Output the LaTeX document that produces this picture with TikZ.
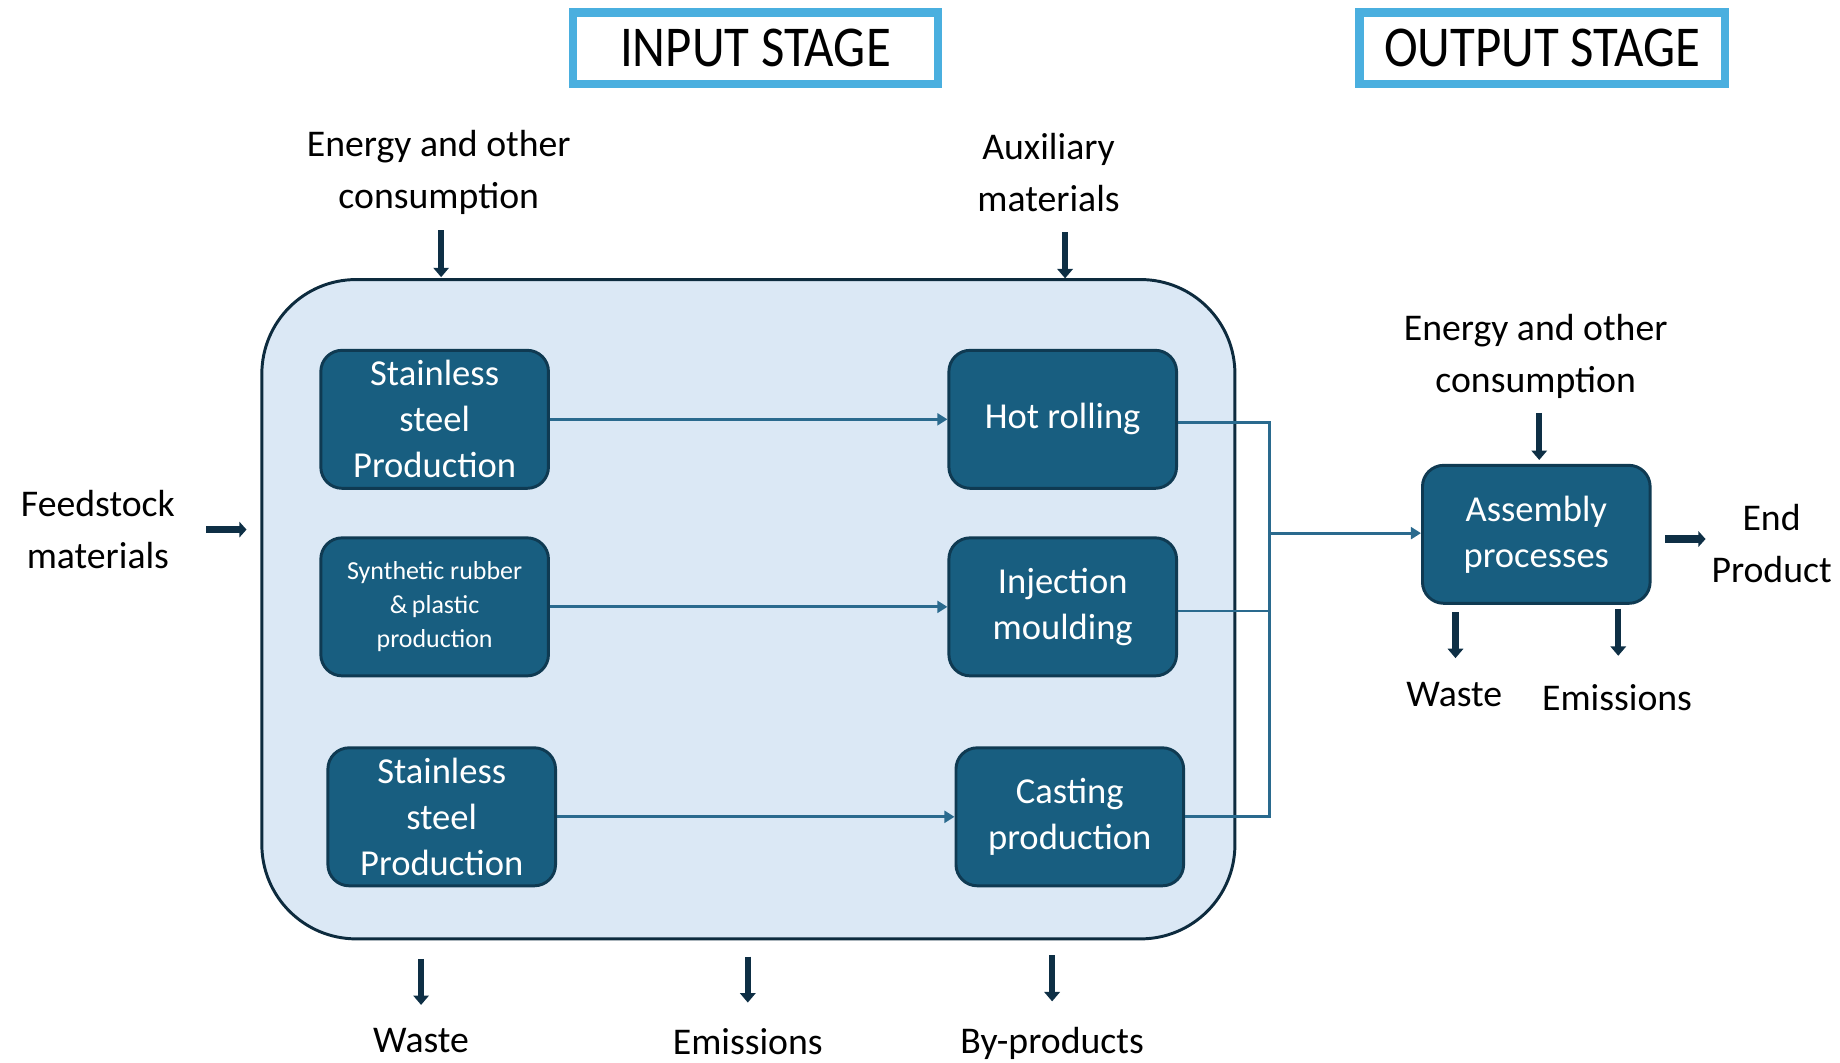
\documentclass[tikz,border=0pt]{standalone}
\usepackage{fontspec}
\setmainfont{Carlito}
\newfontfamily\titlefont[FakeStretch=0.88]{Carlito}
\usetikzlibrary{arrows.meta}
\definecolor{boxfill}{HTML}{185E80}
\definecolor{boxline}{HTML}{0F3A52}
\definecolor{bigfill}{HTML}{DBE8F5}
\definecolor{bigline}{HTML}{0D2B3E}
\definecolor{stageline}{HTML}{4AAFDF}
\definecolor{navy}{HTML}{0E2F45}
\definecolor{conn}{HTML}{2A6A8E}
\tikzset{
  procbox/.style={draw=boxline, fill=boxfill, line width=2.5pt, rounded corners=18pt,
    minimum width=193pt, minimum height=117pt, text=white, align=center,
    font=\fontsize{31}{39}\selectfont},
  smallproc/.style={procbox, font=\fontsize{22}{29}\selectfont},
  stagebox/.style={draw=stageline, line width=7pt, fill=white, minimum width=310pt,
    minimum height=61pt, font=\titlefont\fontsize{49}{52}\selectfont},
  lbl/.style={align=center, text=black, font=\fontsize{32}{44}\selectfont, inner sep=0pt},
  thk/.style={draw=navy, line width=5.2pt, -{Triangle[length=8pt,width=13pt]}},
  thkr/.style={draw=navy, line width=6.5pt, -{Triangle[length=6pt,width=13pt]}},
  cn/.style={draw=conn, line width=2.4pt},
  cna/.style={cn, -{Triangle[length=8.5pt,width=10pt]}},
}
\begin{document}
\begin{tikzpicture}[x=1pt,y=-1pt]
\useasboundingbox (0,0) rectangle (1560,900.4);
% stage titles
\node[stagebox] (instage) at (640.5,41) {INPUT STAGE};
\node[stagebox] (outstage) at (1307.5,41) {OUTPUT STAGE};
% big container
\draw[fill=bigfill, draw=bigline, line width=2.5pt, rounded corners=80pt] (222,237) rectangle (1047,796);
\node[inner sep=0pt, minimum width=825pt, minimum height=559pt] (big) at (634.5,516.5) {};
% process boxes
\node[procbox] (ss1) at (368.5,355.5) {Stainless\\steel\\Production};
\node[smallproc] (srp) at (368.5,514.5) {Synthetic rubber\\\&\,plastic\\production};
\node[procbox] (ss2) at (374.5,692.5) {Stainless\\steel\\Production};
\node[procbox] (hr) at (901,355.5) {Hot rolling};
\node[procbox] (im) at (901,514.5) {Injection\\moulding};
\node[procbox] (cp) at (907,692.5) {Casting\\production};
\node[procbox] (asm) at (1302.5,453) {Assembly\\processes};
% inner arrows
\draw[cna] (ss1.east) -- (hr.west);
\draw[cna] (srp.east) -- (im.west);
\draw[cna] (ss2.east) -- (cp.west);
% merge
\coordinate (jt) at (1076,358);
\coordinate (jm) at (1076,518);
\coordinate (jb) at (1076,692.5);
\coordinate (jc) at (1076,452);
\draw[cn] (hr.east |- jt) -- (jt) -- (jb) -- (cp.east);
\draw[cn] (im.east |- jm) -- (jm);
\draw[cna] (jc) -- (asm.west |- jc);
% outside labels
\node[lbl] (en1) at (372,146) {Energy and other\\consumption};
\node[lbl] (aux) at (889,146) {Auxiliary\\materials};
\node[lbl] (en2) at (1302,302) {Energy and other\\consumption};
\node[lbl] (feed) at (83,449) {Feedstock\\materials};
\node[lbl] (endp) at (1502,461) {End\\Product};
\node[lbl, anchor=base] (w2) at (1233,599) {Waste};
\node[lbl, anchor=base] (e2) at (1371,602) {Emissions};
\node[lbl, anchor=base] (w1) at (357,892) {Waste};
\node[lbl, anchor=base] (e1) at (634,894) {Emissions};
\node[lbl, anchor=base] (bp) at (892,893) {By-products};
% input arrows
\coordinate (a1s) at (374,195); \coordinate (a1e) at (374,235);
\coordinate (a2s) at (903,197); \coordinate (a2e) at (903,236);
\coordinate (a3s) at (1305,350); \coordinate (a3e) at (1305,390);
\coordinate (a4s) at (175,449); \coordinate (a4e) at (209,449);
\draw[thk] (a1s) -- (a1e);
\draw[thk] (a2s) -- (a2e);
\draw[thk] (a3s) -- (a3e);
\draw[thkr] (a4s) -- (a4e);
% output arrows
\coordinate (o1s) at (1412,457); \coordinate (o1e) at (1446,457);
\draw[thkr] (o1s) -- (o1e);
\coordinate (o2s) at (1234,519); \coordinate (o2e) at (1234,558);
\coordinate (o3s) at (1372,516); \coordinate (o3e) at (1372,556);
\draw[thk] (o2s) -- (o2e);
\draw[thk] (o3s) -- (o3e);
\coordinate (b1s) at (357,813); \coordinate (b1e) at (357,852);
\coordinate (b2s) at (634,811); \coordinate (b2e) at (634,850);
\coordinate (b3s) at (892,810); \coordinate (b3e) at (892,849);
\draw[thk] (b1s) -- (b1e);
\draw[thk] (b2s) -- (b2e);
\draw[thk] (b3s) -- (b3e);
\end{tikzpicture}
\end{document}
